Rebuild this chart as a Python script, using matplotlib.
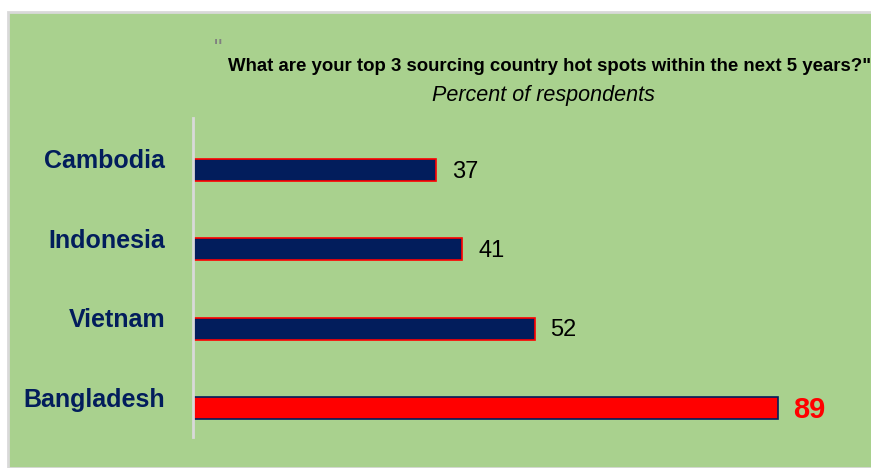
import matplotlib.pyplot as plt
from matplotlib.patches import Rectangle
from matplotlib.transforms import ScaledTranslation

countries = ["Bangladesh", "Vietnam", "Indonesia", "Cambodia"]
percent = [89, 52, 41, 37]
highlight = "Bangladesh"

navy = "#021d5c"
red = "#ff0000"
green = "#a9d18e"

plt.rcParams['font.family'] = ['Liberation Sans', 'DejaVu Sans']

fig = plt.figure(figsize=(8.71, 4.68), dpi=100)
fig.patch.set_facecolor("white")

# green panel with a light grey frame
fig.patches.append(Rectangle((8 / 871, 0), 1, 1 - 12 / 468, transform=fig.transFigure,
                             facecolor=green, edgecolor="#d9d9d9", linewidth=2, zorder=-10))

ax = fig.add_axes([193 / 871, 31 / 468, 657 / 871, 319 / 468])
ax.set_facecolor("none")

ypos = list(range(len(countries)))
for y, name, val in zip(ypos, countries, percent):
    hot = name == highlight
    ax.barh(y, val, height=0.28, color=red if hot else navy,
            edgecolor=navy if hot else red, linewidth=1.2)
    ax.text(val + 2.4, y - 0.02, str(val), va="center", ha="left",
            fontsize=21 if hot else 17, fontweight="bold" if hot else "normal",
            color=red if hot else "black")

ax.set_xlim(0, 100)
ax.set_ylim(-0.365, 3.655)
ax.set_yticks(ypos)
ax.set_yticklabels(countries, fontsize=18, fontweight="bold", color=navy)
ax.tick_params(axis="y", length=0, pad=20)
# country names sit a little above their bars
lift = ScaledTranslation(0, 0.11, fig.dpi_scale_trans)
for lab in ax.get_yticklabels():
    lab.set_transform(lab.get_transform() + lift)
ax.set_xticks([])
for side in ["top", "right", "bottom"]:
    ax.spines[side].set_visible(False)
ax.spines["left"].set_color("#d9d9d9")
ax.spines["left"].set_linewidth(2)

fig.text(214 / 871, 1 - 50 / 468, '"', fontsize=17, color="#808080", ha="left", va="center")
fig.text(228 / 871, 1 - 67 / 468,
         'What are your top 3 sourcing country hot spots within the next 5 years?"',
         fontsize=13.4, fontweight="bold", ha="left", va="center")
fig.text(543 / 871, 1 - 95 / 468, "Percent of respondents",
         fontsize=15.5, style="italic", ha="center", va="center")

fig.savefig("out.png", dpi=100)
